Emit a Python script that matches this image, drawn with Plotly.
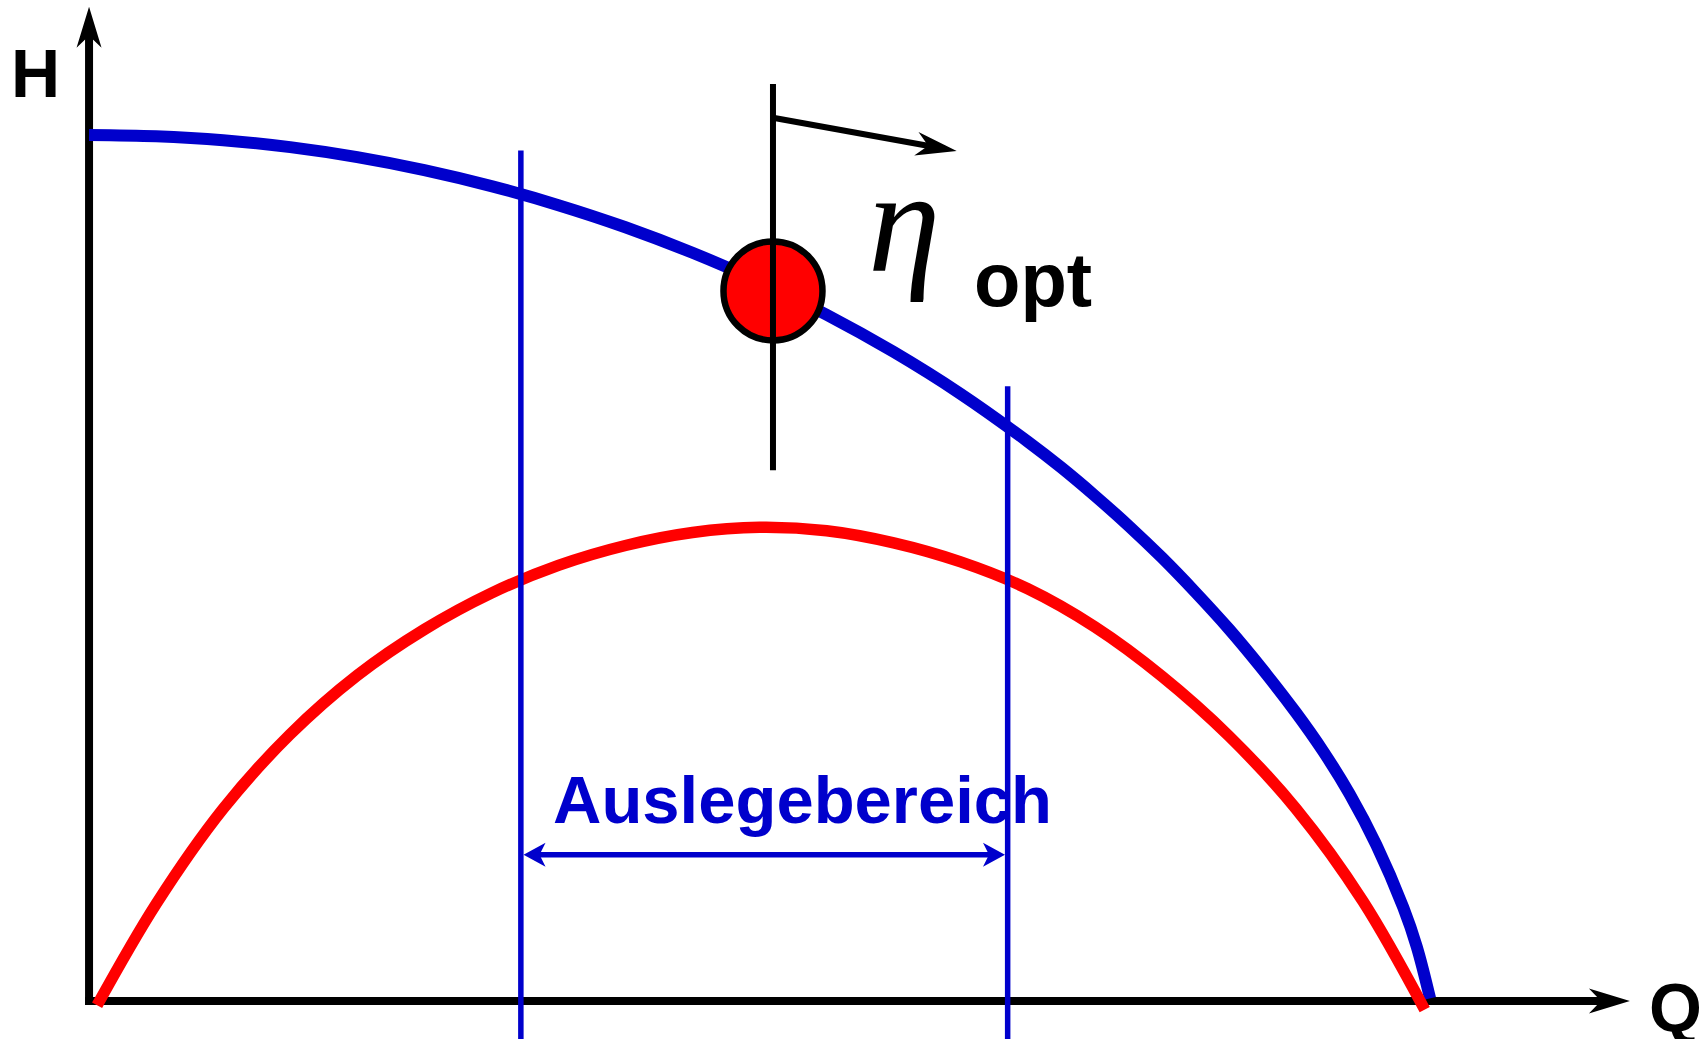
import math
import plotly.graph_objects as go

# ---------------- data (schematic units: Q flow, H head) ----------------
# pump characteristic (H-Q curve, blue)
blue_q = [0, 5, 10, 15, 20, 25, 30, 35, 40, 45, 50, 55, 60, 65, 70, 72.5, 75, 77.5,
          80, 82.5, 85, 87.5, 90, 92, 94, 96, 98, 99, 100]
blue_h = [100.0, 99.85, 99.4, 98.6, 97.45, 95.95, 94.1, 91.9, 89.35, 86.4, 83.05, 79.25,
          74.95, 70.1, 64.6, 61.6, 58.35, 54.9, 51.2, 47.2, 42.95, 38.3, 33.3, 28.9,
          23.9, 18.0, 10.8, 6.3, 0.3]

# efficiency curve (red)
red_q = [0.6, 5, 10, 15, 20, 25, 30, 35, 40, 45, 50, 55, 60, 65, 70, 75, 80, 85,
         90, 95, 99.6]
red_h = [-0.5, 11.2, 22.2, 30.8, 37.6, 42.9, 47.1, 50.3, 52.6, 54.1, 54.7, 54.3,
         52.9, 50.7, 47.6, 43.2, 37.5, 30.6, 22.2, 11.5, -1.0]

# design range (Auslegebereich) limits
range_q = [32.2, 68.5]
range_top_h = [98.2, 71.0]
range_arrow_h = 16.9
range_arrow_q = [32.4, 68.3]

# best efficiency point
opt_q = [51.0]
opt_h = [82.0]
opt_line_h = [105.9, 61.3]
opt_arrow_from = [51.0, 102.0]
opt_arrow_to = [64.7, 98.15]

# axis ends (arrow tips)
q_axis_tip = 114.9
h_axis_tip = 114.8

# ---------------- layout constants ----------------
W, H = 1705, 1039
X_RANGE = [-6.64, 120.5]
Y_RANGE = [-4.39, 115.59]
SX = W / (X_RANGE[1] - X_RANGE[0])   # px per Q unit
SY = H / (Y_RANGE[1] - Y_RANGE[0])   # px per H unit

BLUE = "#0000CC"
RED = "#FF0000"
BLACK = "#000000"

AXIS_W = 8
BLUE_W = 12
RED_W = 11.5
THIN_W = 5.5
BLACK_W = 6


def arrow_path(tip_q, tip_h, from_q, from_h, length, half, notch):
    dx = (tip_q - from_q) * SX
    dy = (tip_h - from_h) * SY
    n = math.hypot(dx, dy)
    ux, uy = dx / n, dy / n
    px, py = -uy, ux

    def pt(a, b):
        return (tip_q + (-a * ux + b * px) / SX, tip_h + (-a * uy + b * py) / SY)

    pts = [pt(0, 0), pt(length, half), pt(notch, 0), pt(length, -half)]
    return "M " + " L ".join(f"{q:.4f},{h:.4f}" for q, h in pts) + " Z"


def back_off(tip_q, tip_h, from_q, from_h, dist_px):
    dx = (tip_q - from_q) * SX
    dy = (tip_h - from_h) * SY
    n = math.hypot(dx, dy)
    return tip_q - dist_px * dx / n / SX, tip_h - dist_px * dy / n / SY


fig = go.Figure()

# curves
fig.add_trace(go.Scatter(x=blue_q, y=blue_h, mode="lines",
                         line=dict(color=BLUE, width=BLUE_W, shape="spline", smoothing=1.0),
                         hoverinfo="skip"))
fig.add_trace(go.Scatter(x=red_q, y=red_h, mode="lines",
                         line=dict(color=RED, width=RED_W, shape="spline", smoothing=1.0),
                         hoverinfo="skip"))
# operating point
fig.add_trace(go.Scatter(x=opt_q, y=opt_h, mode="markers",
                         marker=dict(size=99, color=RED, line=dict(color=BLACK, width=6.5)),
                         hoverinfo="skip"))

shapes = []
# axes (below traces)
ax_x_end = back_off(q_axis_tip, 0, 0, 0, 28)
shapes.append(dict(type="line", xref="x", yref="y", layer="below",
                   x0=-AXIS_W / 2 / SX, y0=0, x1=ax_x_end[0], y1=0,
                   line=dict(color=BLACK, width=AXIS_W)))
shapes.append(dict(type="path", xref="x", yref="y", layer="below",
                   path=arrow_path(q_axis_tip, 0, 0, 0, 41, 12.5, 29),
                   fillcolor=BLACK, line=dict(width=0)))
ax_y_end = back_off(0, h_axis_tip, 0, 0, 28)
shapes.append(dict(type="line", xref="x", yref="y", layer="below",
                   x0=0, y0=-AXIS_W / 2 / SY, x1=0, y1=ax_y_end[1],
                   line=dict(color=BLACK, width=AXIS_W)))
shapes.append(dict(type="path", xref="x", yref="y", layer="below",
                   path=arrow_path(0, h_axis_tip, 0, 0, 41, 12.5, 29),
                   fillcolor=BLACK, line=dict(width=0)))

# design range vertical lines
for q, top in zip(range_q, range_top_h):
    shapes.append(dict(type="line", xref="x", yref="y", layer="above",
                       x0=q, y0=top, x1=q, y1=Y_RANGE[0] - 2,
                       line=dict(color=BLUE, width=THIN_W)))

# double arrow of the design range
a0, a1 = range_arrow_q
l0 = back_off(a0, range_arrow_h, a1, range_arrow_h, 14)
l1 = back_off(a1, range_arrow_h, a0, range_arrow_h, 14)
shapes.append(dict(type="line", xref="x", yref="y", layer="above",
                   x0=l0[0], y0=range_arrow_h, x1=l1[0], y1=range_arrow_h,
                   line=dict(color=BLUE, width=5.5)))
shapes.append(dict(type="path", xref="x", yref="y", layer="above",
                   path=arrow_path(a0, range_arrow_h, a1, range_arrow_h, 22, 12, 16),
                   fillcolor=BLUE, line=dict(width=0)))
shapes.append(dict(type="path", xref="x", yref="y", layer="above",
                   path=arrow_path(a1, range_arrow_h, a0, range_arrow_h, 22, 12, 16),
                   fillcolor=BLUE, line=dict(width=0)))

# black vertical line through optimum
shapes.append(dict(type="line", xref="x", yref="y", layer="above",
                   x0=opt_q[0], y0=opt_line_h[0], x1=opt_q[0], y1=opt_line_h[1],
                   line=dict(color=BLACK, width=BLACK_W)))
# arrow pointing right
e = back_off(opt_arrow_to[0], opt_arrow_to[1], opt_arrow_from[0], opt_arrow_from[1], 28)
shapes.append(dict(type="line", xref="x", yref="y", layer="above",
                   x0=opt_arrow_from[0], y0=opt_arrow_from[1], x1=e[0], y1=e[1],
                   line=dict(color=BLACK, width=BLACK_W)))
shapes.append(dict(type="path", xref="x", yref="y", layer="above",
                   path=arrow_path(opt_arrow_to[0], opt_arrow_to[1],
                                   opt_arrow_from[0], opt_arrow_from[1], 41, 12, 29),
                   fillcolor=BLACK, line=dict(width=0)))

SANS = "Liberation Sans, Arial, Helvetica, sans-serif"
annotations = [
    dict(x=-4.0, y=107.2, text="H", font=dict(family=SANS, size=68, color=BLACK, weight="bold")),
    dict(x=118.3, y=-0.7, text="Q", font=dict(family=SANS, size=68, color=BLACK, weight="bold")),
    dict(x=60.8, y=90.0, text="η",
         font=dict(family="Liberation Serif, Times New Roman, serif", size=146,
                   color=BLACK, style="italic")),
    dict(x=70.4, y=83.3, text="opt", font=dict(family=SANS, size=76, color=BLACK, weight="bold")),
    dict(x=53.2, y=23.3, text="Auslegebereich",
         font=dict(family=SANS, size=67, color=BLUE, weight="bold")),
]
for a in annotations:
    a.update(xref="x", yref="y", showarrow=False, xanchor="center", yanchor="middle")

fig.update_layout(
    width=W, height=H,
    margin=dict(l=0, r=0, t=0, b=0, pad=0),
    paper_bgcolor="white", plot_bgcolor="white",
    showlegend=False,
    xaxis=dict(range=X_RANGE, visible=False, fixedrange=True),
    yaxis=dict(range=Y_RANGE, visible=False, fixedrange=True),
    shapes=shapes,
    annotations=annotations,
)

fig.write_html("out.html", config={"displayModeBar": False},
               post_script="document.body.style.margin='0px';document.body.style.overflow='hidden';")
